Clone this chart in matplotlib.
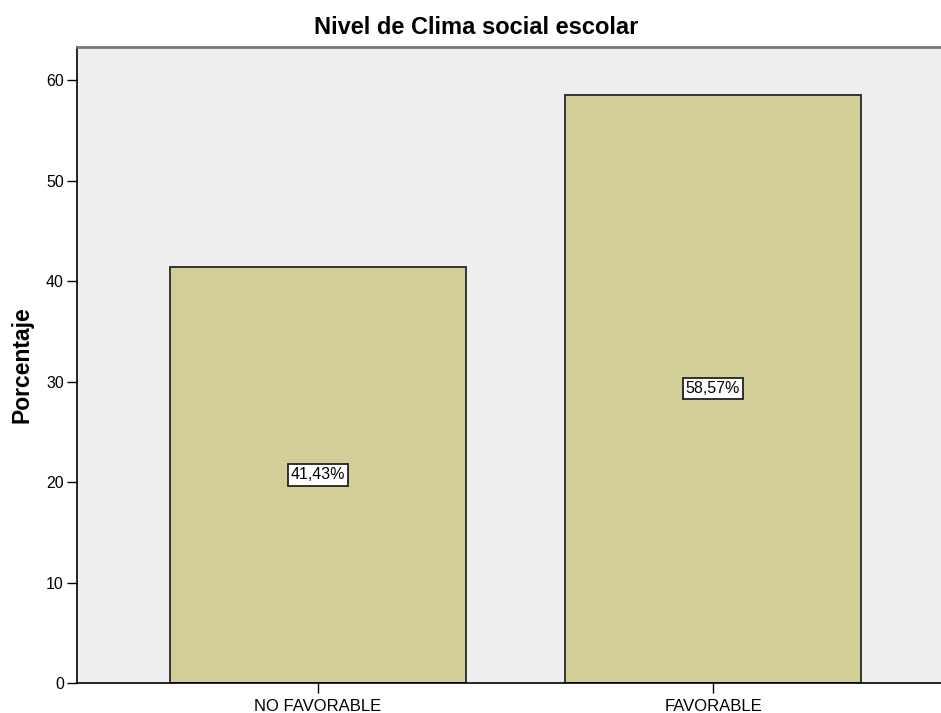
import matplotlib
matplotlib.use("Agg")
import matplotlib.pyplot as plt

categories = ["NO FAVORABLE", "FAVORABLE"]
percentages = [41.43, 58.57]
labels = ["41,43%", "58,57%"]
y_ticks = [0, 10, 20, 30, 40, 50, 60]

plt.rcParams["font.family"] = ["Liberation Sans", "DejaVu Sans"]

fig = plt.figure(figsize=(9.41, 7.13), dpi=100)
ax = fig.add_axes([77 / 941, 30 / 713, 864 / 941, 636 / 713])
ax.set_facecolor("#efefef")

x = list(range(len(categories)))
ax.bar(x, percentages, width=0.75, color="#d3ce98", edgecolor="#333333", linewidth=1.4, zorder=2)

for xi, v, lab in zip(x, percentages, labels):
    ax.text(xi, v / 2, lab, ha="center", va="center", fontsize=11.5, zorder=3,
            bbox=dict(boxstyle="square,pad=0.2", facecolor="white", edgecolor="#222222", linewidth=1.3))

ax.set_xlim(-0.61, 1.577)
ax.set_ylim(0, 63.3)
ax.set_xticks(x)
ax.set_xticklabels(categories, fontsize=12)
ax.set_yticks(y_ticks)
ax.set_yticklabels([str(t) for t in y_ticks], fontsize=11.5)
ax.tick_params(direction="out", length=7.5, width=1, color="black")
ax.tick_params(axis="y", pad=2)
ax.tick_params(axis="x", pad=4)

for side in ["left", "bottom"]:
    ax.spines[side].set_color("black")
    ax.spines[side].set_linewidth(1.2)
ax.spines["top"].set_color("#777777")
ax.spines["top"].set_linewidth(2)
ax.spines["right"].set_visible(False)

ax.set_ylabel("Porcentaje", fontsize=16.5, fontweight="bold", labelpad=9)
fig.text(476 / 941, 1 - 28 / 713, "Nivel de Clima social escolar", ha="center", va="center",
         fontsize=17, fontweight="bold")

fig.savefig("out.png", dpi=100)
